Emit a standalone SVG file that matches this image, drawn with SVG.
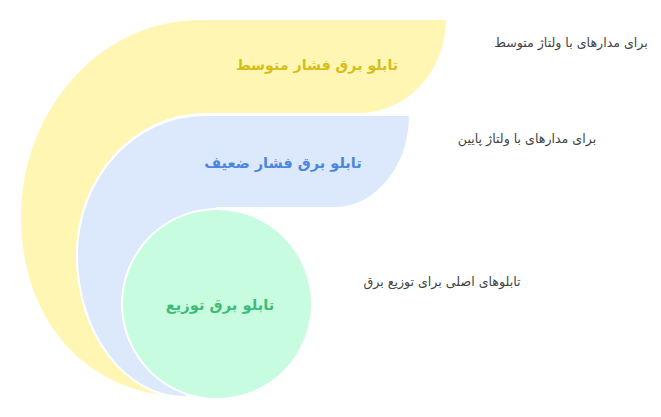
<svg xmlns="http://www.w3.org/2000/svg" width="661" height="417" viewBox="0 0 661 417">
<style>
.title{font-family:"DejaVu Sans","Noto Sans",sans-serif;font-weight:bold;text-anchor:middle}
.desc{font-family:"DejaVu Sans","Noto Sans",sans-serif;font-size:12.6px;fill:#444444;text-anchor:middle}
.shape{stroke:#ffffff;stroke-width:2}
</style>
<rect width="661" height="417" fill="#ffffff"/>
<g id="node-medium">
<path class="shape" fill="#fff6b4" d="M200,19 H447 C447,71 408,114 360,114 H205 C134,114 77,178 77,255 C77,333 125,397 185,397 C85,397 20,320 20,217 C20,108 101,19 200,19 Z"/>
<text class="title" x="317" y="70" font-size="14.2" fill="#d6bd1a" direction="rtl">تابلو برق فشار متوسط</text>
</g>
<g id="node-low">
<path class="shape" fill="#dce8fc" d="M205,115 H410 C410,166 376,208 335,208 H217 L217,304 L187,395 L185,397 C125,397 77,333 77,255 C77,178 134,115 205,115 Z"/>
<text class="title" x="283" y="168" font-size="14.5" fill="#4a86e0" direction="rtl">تابلو برق فشار ضعیف</text>
</g>
<g id="node-dist">
<circle class="shape" cx="217" cy="304" r="95" fill="#c8fce0"/>
<text class="title" x="220" y="310" font-size="14.7" fill="#3dbb78" direction="rtl">تابلو برق توزیع</text>
</g>
<g id="labels">
<text class="desc" x="571" y="47" direction="rtl">برای مدارهای با ولتاژ متوسط</text>
<text class="desc" x="527" y="143" direction="rtl">برای مدارهای با ولتاژ پایین</text>
<text class="desc" x="442" y="286" direction="rtl">تابلوهای اصلی برای توزیع برق</text>
</g>
<g id="connectors"></g>
</svg>
